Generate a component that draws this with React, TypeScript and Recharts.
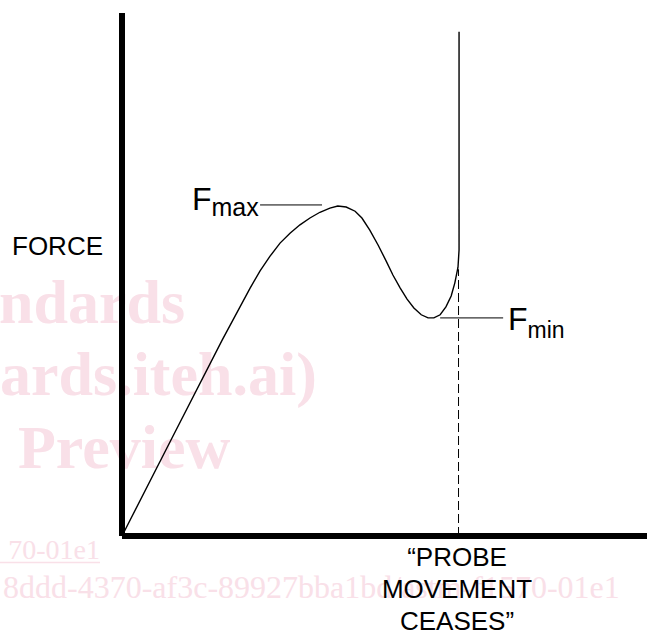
import React from "react";
import { LineChart, Line, XAxis, YAxis, ReferenceLine } from "recharts";

// schematic probe test: displacement (x) vs force (y), arbitrary 0-100 units
const displacement = [
  0, 9.5, 19.1, 24.4, 26.3, 28.2, 30.1, 32.0, 33.9, 35.8, 37.7, 39.6, 41.1, 42.7,
  44.4, 45.7, 47.2, 48.8, 50.3, 51.6, 53.0, 54.3, 55.6, 57.0, 58.3, 59.4, 60.6,
  61.7, 62.7, 63.4, 64.0, 64.2, 64.2,
];
const force = [
  0, 18.7, 37.5, 47.4, 50.7, 53.5, 56.0, 57.9, 59.5, 60.8, 61.9, 62.7, 63.1, 62.9,
  62.1, 60.8, 58.5, 55.6, 52.6, 49.9, 47.4, 45.3, 43.6, 42.3, 41.7, 41.7, 42.3,
  43.8, 45.9, 48.4, 51.4, 54.7, 96.4,
];

const ceaseAt = 64.1;
const ceaseForce = 51.0;
const fMax = { from: 26.3, to: 38.1, force: 63.3 };
const fMin = { from: 60.6, to: 72.6, force: 41.7 };

const captionLines = ["\u201cPROBE", "MOVEMENT", "CEASES\u201d"];
const watermarkBig = ["ndards", "ards.iteh.ai)", "Preview"];
const watermarkLink = "70-01e1";
const watermarkId = "8ddd-4370-af3c-89927bba1bd/astm-f1570-01e1";

const data = displacement.map((x, i) => ({ x, f: force[i] }));

const sans = "'Liberation Sans', Arial, Helvetica, sans-serif";
const serif = "'Liberation Serif', 'Times New Roman', serif";
const pink = "#f9e0e8";

export default function App() {
  return (
    <div style={{ position: "absolute", left: 0, top: 0, width: 647, height: 639, background: "#fff" }}>
      {/* faint watermark under the chart */}
      <svg width={647} height={639} style={{ position: "absolute", left: 0, top: 0 }}>
        <g fontFamily={serif} fontWeight="bold" fontSize={62} fill={pink}>
          <text x={-1} y={323}>{watermarkBig[0]}</text>
          <text x={0} y={395}>{watermarkBig[1]}</text>
          <text x={18} y={468}>{watermarkBig[2]}</text>
        </g>
        <g fontFamily={serif} fill={pink}>
          <text x={100} y={559} fontSize={28} textAnchor="end">{watermarkLink}</text>
          <line x1={0} x2={100} y1={562.5} y2={562.5} stroke={pink} strokeWidth={1.5} />
          <text x={3} y={598} fontSize={32}>{watermarkId}</text>
        </g>
      </svg>

      <div style={{ position: "absolute", left: 0, top: 0 }}>
        <LineChart
          width={647}
          height={639}
          data={data}
          margin={{ top: 13, right: 0, left: 121, bottom: 102 }}
        >
          <XAxis
            type="number"
            dataKey="x"
            domain={[0, 100]}
            tick={false}
            height={1}
            axisLine={{ stroke: "#000", strokeWidth: 6 }}
            tickLine={false}
          />
          <YAxis
            type="number"
            domain={[0, 100]}
            tick={false}
            width={1}
            axisLine={{ stroke: "#000", strokeWidth: 6 }}
            tickLine={false}
          />
          <ReferenceLine
            segment={[{ x: ceaseAt, y: 0 }, { x: ceaseAt, y: ceaseForce }]}
            stroke="#000"
            strokeWidth={1}
            strokeDasharray="9 4"
          />
          <ReferenceLine
            segment={[{ x: fMax.from, y: fMax.force }, { x: fMax.to, y: fMax.force }]}
            stroke="#000"
            strokeWidth={1}
          />
          <ReferenceLine
            segment={[{ x: fMin.from, y: fMin.force }, { x: fMin.to, y: fMin.force }]}
            stroke="#000"
            strokeWidth={1}
          />
          <Line
            type="linear"
            dataKey="f"
            stroke="#000"
            strokeWidth={1.4}
            dot={false}
            isAnimationActive={false}
          />
        </LineChart>
      </div>

      {/* labels */}
      <svg width={647} height={639} style={{ position: "absolute", left: 0, top: 0, pointerEvents: "none" }}>
        <g fontFamily={sans} fill="#000">
          <text x={12} y={255} fontSize={26}>FORCE</text>
          <text x={192} y={210} fontSize={32}>
            F<tspan fontSize={25} dy={6}>max</tspan>
          </text>
          <text x={508} y={330} fontSize={32}>
            F<tspan fontSize={23} dy={8}>min</tspan>
          </text>
          {captionLines.map((t, i) => (
            <text key={t} x={457} y={566 + i * 32} fontSize={26} textAnchor="middle">
              {t}
            </text>
          ))}
        </g>
      </svg>
    </div>
  );
}
